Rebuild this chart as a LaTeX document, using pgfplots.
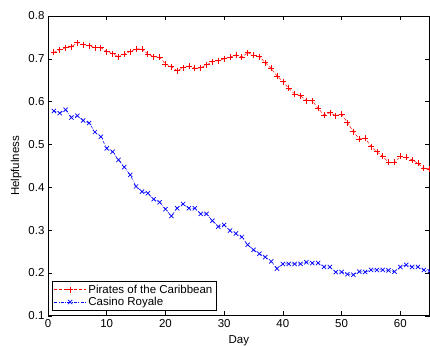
\documentclass[border=0pt]{standalone}
\usepackage{pgfplots}
\pgfplotsset{compat=1.18}
\usepackage{fontspec}
\setmainfont{Liberation Sans}
\begin{document}
\begin{tikzpicture}
\begin{axis}[name=ax,
  scale only axis, width=382pt, height=300pt,
  xmin=0, xmax=65, ymin=0.1, ymax=0.8,
  xtick={0,10,20,30,40,50,60},
  ytick={0.1,0.2,0.3,0.4,0.5,0.6,0.7,0.8},
  yticklabel style={/pgf/number format/.cd, fixed, fixed zerofill, precision=1},
  /pgf/number format/assume math mode=true,
  font=\fontsize{11.5}{13}\selectfont,
  tick label style={font=\fontsize{11.5}{13}\selectfont},
  xlabel={Day}, ylabel={Helpfulness},
  xlabel style={yshift=-1pt},
  ylabel style={yshift=0pt},
  axis line style={line width=0.6pt},
  tick style={line width=0.5pt, black},
  major tick length=4.5pt,
  tick align=inside,
  legend style={at={(0.011,0.017)}, anchor=south west, draw=black, line width=0.6pt,
    font=\fontsize{11.5}{13}\selectfont, row sep=-1.5pt, inner sep=1.5pt},
  legend cell align=left,
  legend image code/.code={\draw[mark repeat=2,mark phase=2] plot coordinates {(0pt,0pt)(16pt,0pt)(32pt,0pt)};},
]
\addplot[red, line width=0.5pt, dash pattern=on 3pt off 2pt, mark=+, mark size=3pt, mark options={solid, line width=0.7pt}] coordinates {
(1,0.715)(2,0.721)(3,0.726)(4,0.728)(5,0.738)(6,0.733)(7,0.731)(8,0.726)(9,0.726)(10,0.717)
(11,0.712)(12,0.705)(13,0.711)(14,0.717)(15,0.723)(16,0.723)(17,0.711)(18,0.705)(19,0.704)(20,0.688)
(21,0.682)(22,0.672)(23,0.679)(24,0.683)(25,0.678)(26,0.679)(27,0.686)(28,0.693)(29,0.696)(30,0.700)
(31,0.704)(32,0.709)(33,0.704)(34,0.714)(35,0.709)(36,0.705)(37,0.691)(38,0.678)(39,0.660)(40,0.647)
(41,0.631)(42,0.618)(43,0.614)(44,0.602)(45,0.602)(46,0.584)(47,0.569)(48,0.574)(49,0.567)(50,0.571)
(51,0.551)(52,0.530)(53,0.513)(54,0.515)(55,0.495)(56,0.483)(57,0.472)(58,0.458)(59,0.458)(60,0.472)
(61,0.470)(62,0.464)(63,0.456)(64,0.445)(65,0.443)
};
\addlegendentry{Pirates of the Caribbean}
\addplot[blue, line width=0.5pt, dash pattern=on 3pt off 1.5pt on 0.6pt off 1.5pt, mark=x, mark size=3pt, mark options={solid, line width=0.7pt}] coordinates {
(1,0.578)(2,0.573)(3,0.581)(4,0.563)(5,0.567)(6,0.556)(7,0.550)(8,0.529)(9,0.518)(10,0.491)
(11,0.483)(12,0.464)(13,0.447)(14,0.429)(15,0.402)(16,0.390)(17,0.386)(18,0.372)(19,0.365)(20,0.349)
(21,0.333)(22,0.351)(23,0.361)(24,0.351)(25,0.351)(26,0.338)(27,0.338)(28,0.322)(29,0.308)(30,0.312)
(31,0.299)(32,0.292)(33,0.284)(34,0.266)(35,0.254)(36,0.245)(37,0.237)(38,0.227)(39,0.210)(40,0.221)
(41,0.221)(42,0.221)(43,0.221)(44,0.225)(45,0.223)(46,0.223)(47,0.214)(48,0.214)(49,0.202)(50,0.202)
(51,0.197)(52,0.196)(53,0.203)(54,0.202)(55,0.207)(56,0.207)(57,0.207)(58,0.206)(59,0.203)(60,0.214)
(61,0.219)(62,0.214)(63,0.214)(64,0.207)(65,0.204)
};
\addlegendentry{Casino Royale}
\end{axis}
\pgfresetboundingbox
\path[use as bounding box] ([xshift=-48pt,yshift=-30pt]ax.south west) rectangle ([xshift=0.3pt,yshift=16pt]ax.north east);
\end{tikzpicture}
\end{document}
